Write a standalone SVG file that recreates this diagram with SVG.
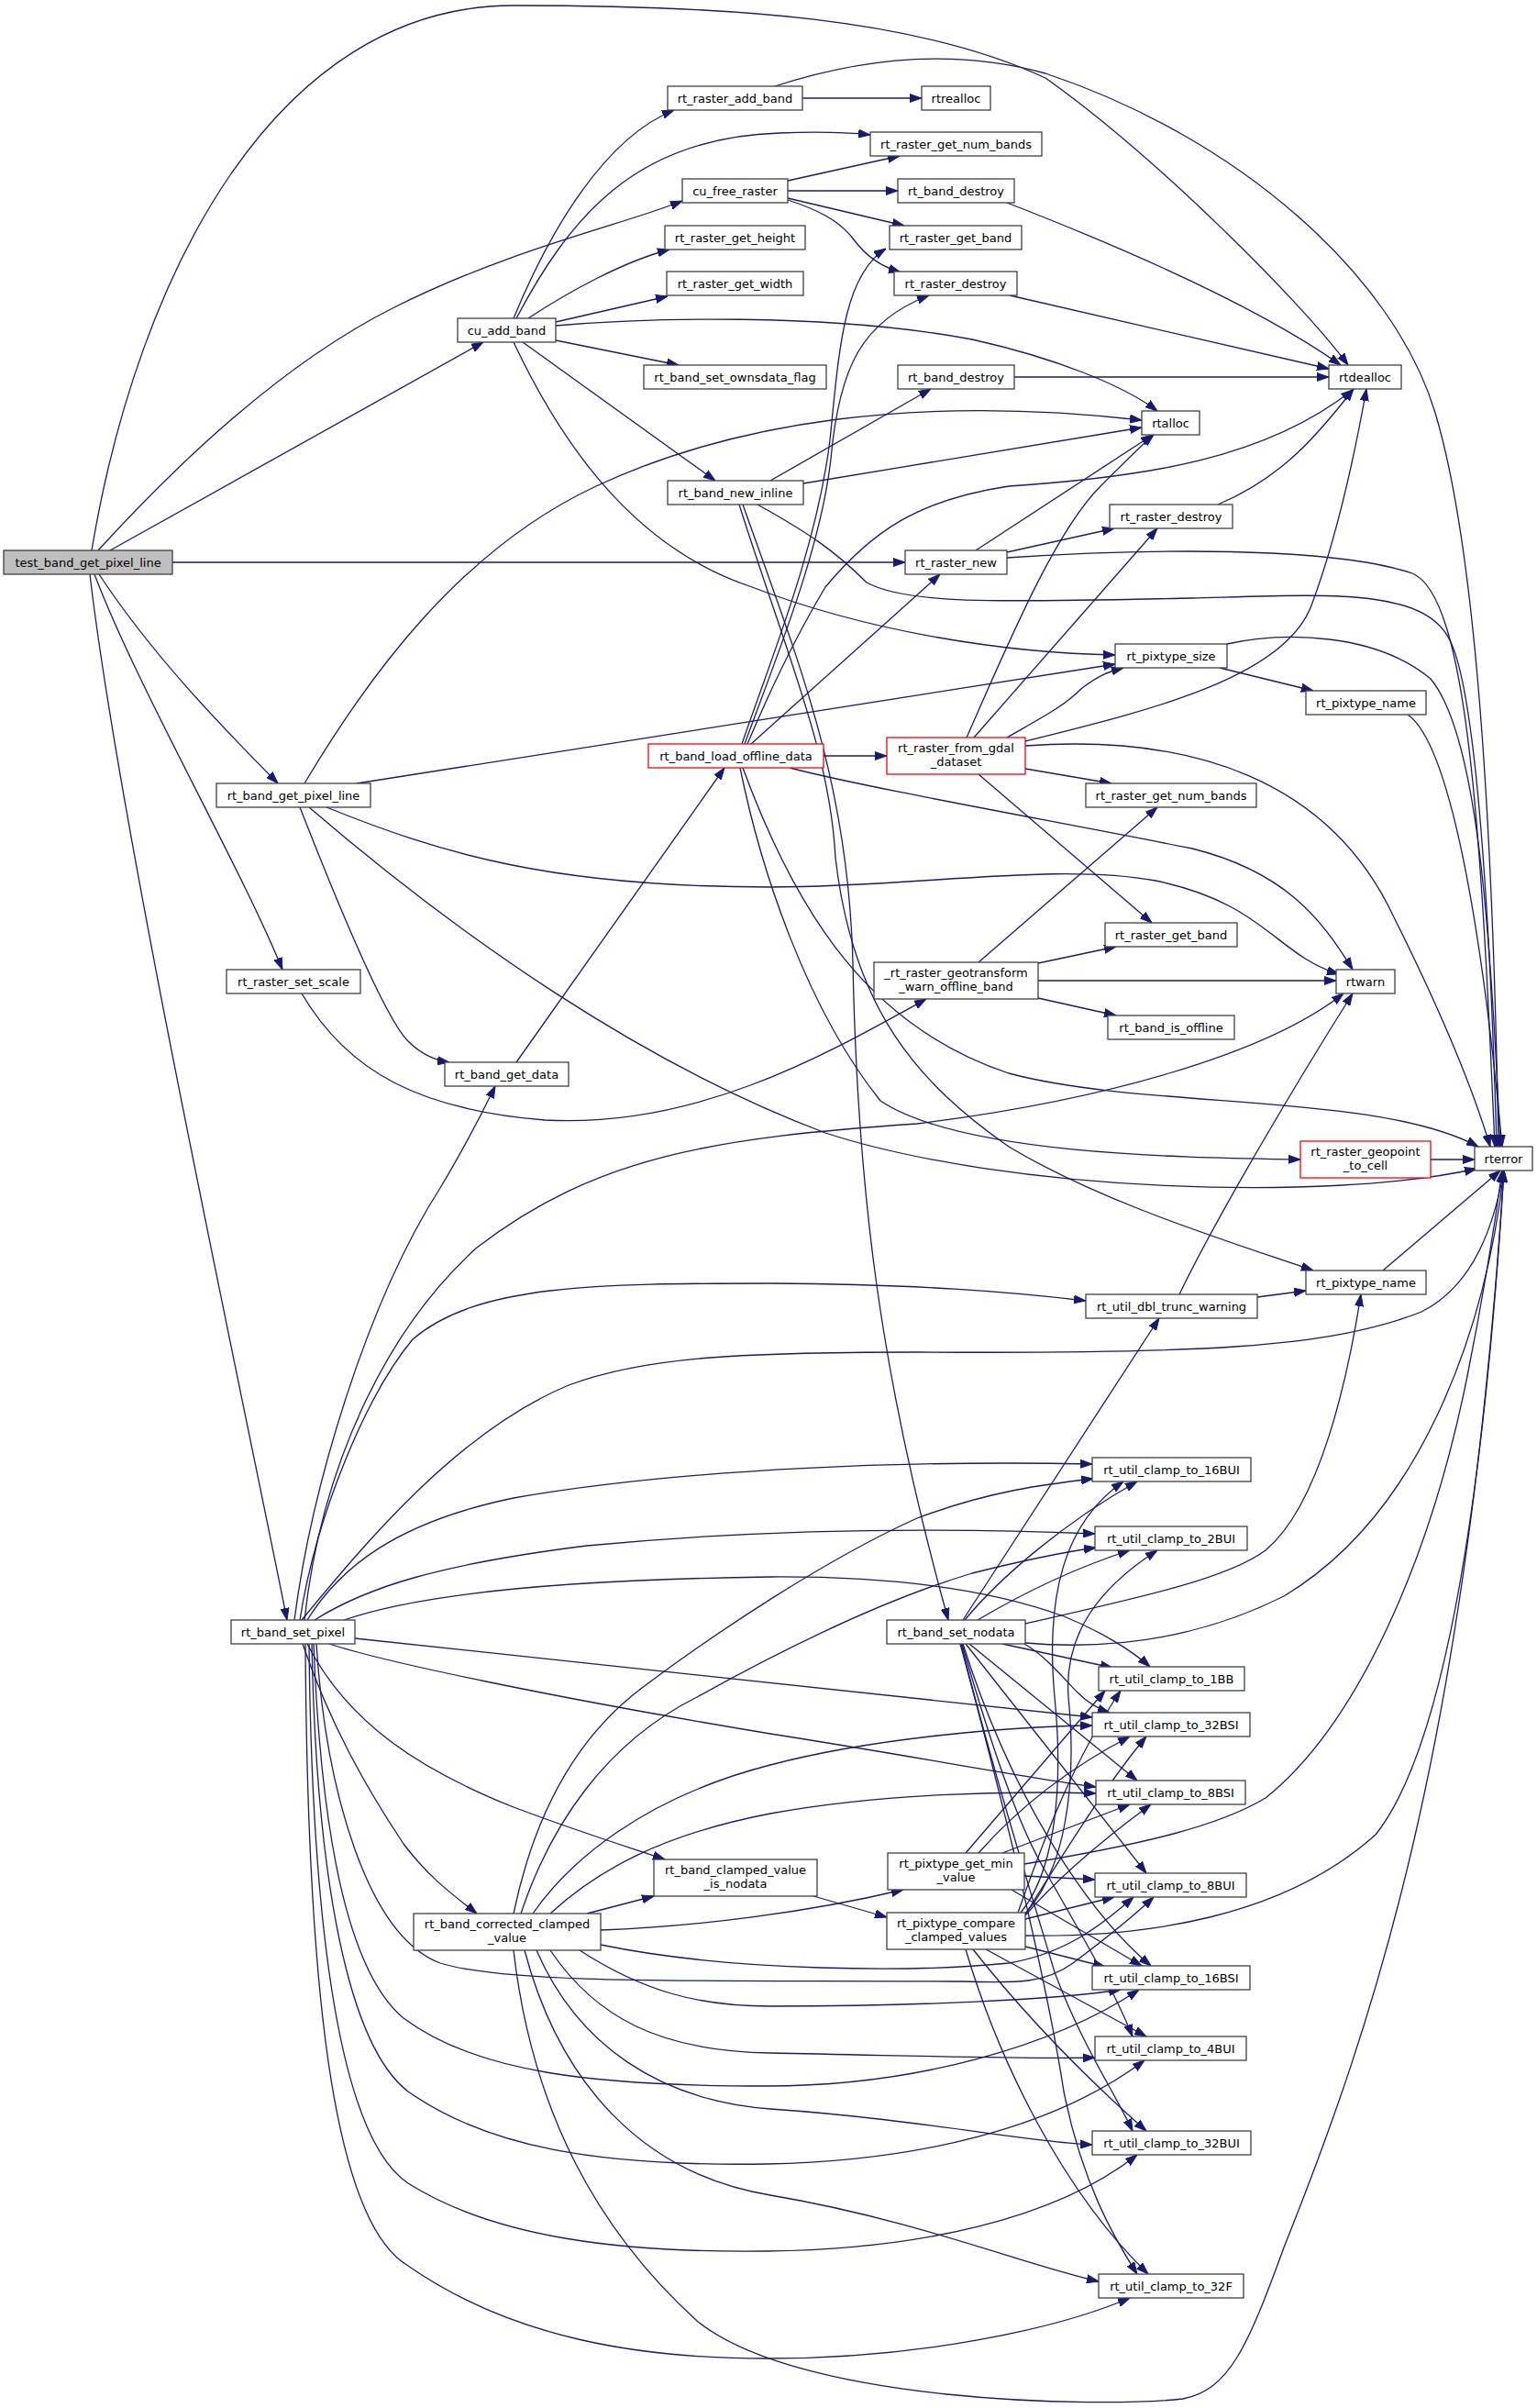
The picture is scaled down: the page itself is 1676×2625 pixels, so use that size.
<svg xmlns="http://www.w3.org/2000/svg" width="1676" height="2625" viewBox="0 0 1676 2625">
<style>
.n rect{fill:#ffffff;stroke:#404040;stroke-width:1.3}
.root rect{fill:#bfbfbf}
.red rect{stroke:#ff0000}
text{font-family:"DejaVu Sans","Liberation Sans",sans-serif;font-size:13px;text-anchor:middle;fill:#000000}
#edges path{fill:none;stroke:#191970;stroke-width:1.3;marker-end:url(#arr)}
</style>
<defs>
<marker id="arr" viewBox="0 0 13 10" refX="13" refY="5" markerWidth="13" markerHeight="10" markerUnits="userSpaceOnUse" orient="auto">
<path d="M0,0.5L13,5L0,9.5z" fill="#191970" stroke="#191970" stroke-width="1"/>
</marker>
</defs>
<rect x="0" y="0" width="1676" height="2625" fill="#ffffff"/>
<g id="edges">
<path d="M100,600 C150,300 300,6 560,6 C800,6 1000,20 1140,85 C1260,170 1420,330 1470,398"/>
<path d="M107,600 C180,520 300,400 430,335 C560,270 680,245 744,219"/>
<path d="M120,600 L527,373"/>
<path d="M188,613 L987,613"/>
<path d="M108,626 C170,720 250,800 303,854"/>
<path d="M103,626 C150,750 260,940 308,1057"/>
<path d="M98,626 C130,900 260,1500 313,1766"/>
<path d="M560,347 C600,250 660,150 735,120"/>
<path d="M563,347 C620,240 690,150 850,145 C900,143 930,145 949,147"/>
<path d="M576,347 C620,318 680,285 730,272"/>
<path d="M606,351 L728,323"/>
<path d="M606,355 C700,347 900,340 1060,370 C1150,390 1225,420 1262,448"/>
<path d="M606,371 L740,398"/>
<path d="M570,373 L780,524"/>
<path d="M560,373 C620,500 700,600 820,640 C950,690 1100,712 1216,714"/>
<path d="M875,107 L1005,107"/>
<path d="M845,94 C950,60 1050,55 1140,80 C1350,150 1520,300 1565,450 C1610,600 1628,900 1634,1250"/>
<path d="M859,197 L981,170"/>
<path d="M859,208 L979,208"/>
<path d="M859,216 L986,246"/>
<path d="M859,218 C890,228 915,240 930,260 C945,280 960,290 982,297"/>
<path d="M1098,221 C1250,280 1380,340 1462,398"/>
<path d="M1101,322 L1449,402"/>
<path d="M1106,411 L1449,411"/>
<path d="M1328,550 C1400,520 1440,470 1476,424"/>
<path d="M840,524 L1015,424"/>
<path d="M876,527 L1245,466"/>
<path d="M826,550 C880,580 910,600 945,635 C990,660 1100,656 1300,652 C1450,648 1555,640 1582,700 C1610,760 1625,1000 1632,1250"/>
<path d="M810,550 C870,720 925,850 930,1050 C935,1300 960,1500 1034,1766"/>
<path d="M806,550 C860,720 905,820 911,935 C930,1100 1000,1180 1100,1250 C1200,1310 1330,1350 1432,1385"/>
<path d="M1064,600 L1257,474"/>
<path d="M1098,602 L1215,576"/>
<path d="M1098,608 C1250,598 1450,595 1540,625 C1600,650 1615,900 1630,1250"/>
<path d="M332,854 C400,740 500,600 650,530 C800,460 1000,430 1245,458"/>
<path d="M389,854 L1216,724"/>
<path d="M327,880 C370,990 420,1110 445,1135 C460,1150 475,1156 490,1158"/>
<path d="M356,880 C480,930 600,967 840,967 C1000,967 1150,940 1260,960 C1380,985 1390,1040 1460,1062"/>
<path d="M337,880 C500,1020 700,1160 900,1235 C1100,1300 1450,1310 1610,1274"/>
<path d="M329,1083 C380,1170 460,1210 594,1221 C760,1230 900,1150 1010,1089"/>
<path d="M563,1158 L790,837"/>
<path d="M898,824 L967,824"/>
<path d="M809,811 C840,720 890,600 905,480 C915,380 920,300 966,271"/>
<path d="M812,811 C845,720 895,600 906,500 C915,400 940,350 1013,322"/>
<path d="M815,811 C845,740 870,690 900,640 C950,580 1000,545 1100,530 C1250,520 1380,500 1475,425"/>
<path d="M819,811 L1025,626"/>
<path d="M861,837 C950,860 1150,895 1300,925 C1400,950 1440,1000 1475,1057"/>
<path d="M807,837 C830,950 880,1100 960,1200 C1050,1260 1300,1262 1418,1264"/>
<path d="M810,837 C870,1000 950,1120 1100,1170 C1250,1210 1500,1190 1612,1250"/>
<path d="M1054,804 C1100,700 1150,580 1200,530 C1230,500 1245,485 1258,474"/>
<path d="M1062,804 L1262,576"/>
<path d="M1098,804 C1140,780 1160,770 1180,750 C1200,735 1210,732 1225,728"/>
<path d="M1118,808 C1250,775 1400,740 1430,660 C1460,580 1480,480 1490,424"/>
<path d="M1118,813 C1300,800 1450,850 1520,1000 C1580,1120 1610,1200 1625,1250"/>
<path d="M1118,838 L1212,854"/>
<path d="M1067,844 L1256,1006"/>
<path d="M1330,728 L1432,753"/>
<path d="M1338,702 C1400,688 1500,690 1560,740 C1610,800 1625,1000 1636,1250"/>
<path d="M1535,779 C1580,810 1615,1000 1638,1250"/>
<path d="M1067,1049 L1262,880"/>
<path d="M1132,1050 L1217,1032"/>
<path d="M1132,1069 L1457,1069"/>
<path d="M1132,1088 L1217,1107"/>
<path d="M1560,1264 L1608,1264"/>
<path d="M1286,1411 C1330,1320 1420,1170 1475,1083"/>
<path d="M1371,1414 L1424,1407"/>
<path d="M1508,1385 L1636,1276"/>
<path d="M321,1766 C340,1620 400,1420 480,1295 C510,1245 525,1215 540,1184"/>
<path d="M332,1766 C350,1600 420,1450 520,1360 C650,1260 780,1240 1000,1225 C1200,1200 1380,1150 1465,1083"/>
<path d="M327,1766 C345,1650 400,1520 450,1460 C520,1400 650,1399 840,1399 C1000,1400 1100,1408 1184,1418"/>
<path d="M329,1766 C400,1680 500,1560 620,1510 C700,1480 800,1474 1000,1474 C1300,1476 1450,1470 1550,1430 C1610,1400 1630,1330 1640,1276"/>
<path d="M335,1766 C370,1710 430,1660 560,1633 C750,1600 1000,1592 1191,1596"/>
<path d="M343,1766 C400,1730 480,1705 640,1685 C850,1665 1050,1666 1194,1672"/>
<path d="M375,1766 C450,1740 600,1722 840,1719 C1000,1718 1100,1740 1160,1762 C1200,1778 1235,1800 1254,1817"/>
<path d="M387,1786 L1191,1872"/>
<path d="M359,1792 C420,1812 600,1850 840,1890 C1000,1915 1100,1935 1195,1948"/>
<path d="M335,1792 C380,1880 460,1930 560,1970 C640,2000 690,2015 725,2027"/>
<path d="M330,1792 C360,1880 400,1950 440,2010 C470,2050 500,2070 520,2086"/>
<path d="M345,1792 C355,1950 400,2110 480,2140 C560,2165 800,2158 1050,2160 C1110,2162 1140,2162 1170,2140 C1210,2110 1240,2085 1258,2068"/>
<path d="M342,1792 C350,2000 380,2150 440,2200 C520,2260 650,2274 836,2274 C1000,2274 1150,2230 1242,2169"/>
<path d="M340,1792 C345,2050 380,2230 445,2280 C530,2340 650,2362 836,2359 C1000,2356 1150,2320 1248,2246"/>
<path d="M337,1792 C340,2100 370,2330 445,2380 C540,2440 680,2456 836,2454 C1000,2452 1150,2420 1240,2349"/>
<path d="M333,1792 C335,2150 360,2420 445,2470 C560,2550 700,2571 836,2571 C1000,2571 1150,2540 1232,2505"/>
<path d="M640,2086 L713,2067"/>
<path d="M655,2104 C760,2100 880,2085 985,2060"/>
<path d="M560,2086 C580,1990 620,1900 700,1840 C780,1780 900,1700 1000,1655 C1080,1625 1140,1618 1192,1612"/>
<path d="M568,2086 C600,1990 660,1900 760,1850 C850,1800 960,1745 1060,1715 C1120,1700 1160,1692 1195,1687"/>
<path d="M581,2086 C620,2030 700,1960 840,1924 C950,1895 1100,1882 1191,1881"/>
<path d="M600,2086 C650,2040 720,2000 840,1977 C960,1955 1100,1952 1195,1955"/>
<path d="M655,2120 C800,2150 1000,2150 1100,2140 C1160,2130 1200,2100 1236,2068"/>
<path d="M632,2126 C700,2170 760,2187 840,2187 C1000,2187 1150,2180 1222,2169"/>
<path d="M600,2126 C650,2200 720,2236 840,2238 C1000,2241 1120,2245 1194,2243"/>
<path d="M585,2126 C630,2230 720,2290 840,2299 C1000,2310 1120,2335 1191,2338"/>
<path d="M572,2126 C610,2270 700,2370 840,2393 C1000,2420 1120,2470 1198,2487"/>
<path d="M560,2126 C580,2300 650,2430 760,2530 C870,2620 1200,2625 1290,2615 C1340,2605 1360,2560 1400,2450 C1500,2200 1600,1900 1640,1276"/>
<path d="M887,2067 L967,2090"/>
<path d="M1053,2020 L1205,1843"/>
<path d="M1067,2020 C1120,1960 1180,1920 1232,1893"/>
<path d="M1093,2020 L1232,1967"/>
<path d="M1117,2045 L1194,2049"/>
<path d="M1103,2060 L1245,2143"/>
<path d="M1117,2032 C1250,2010 1330,1990 1380,1960 C1480,1880 1560,1700 1600,1500 C1620,1400 1632,1320 1638,1276"/>
<path d="M1113,2085 C1150,2040 1160,1950 1150,1850 C1140,1740 1160,1660 1225,1615"/>
<path d="M1118,2086 C1160,2040 1175,1950 1165,1850 C1160,1780 1200,1730 1262,1690"/>
<path d="M1110,2085 C1140,2000 1170,1920 1222,1843"/>
<path d="M1118,2087 C1160,2020 1210,1940 1250,1893"/>
<path d="M1118,2088 C1160,2040 1210,2000 1255,1967"/>
<path d="M1118,2092 L1215,2068"/>
<path d="M1118,2122 L1205,2144"/>
<path d="M1075,2125 L1250,2220"/>
<path d="M1061,2125 C1120,2200 1190,2270 1250,2323"/>
<path d="M1053,2125 C1090,2250 1160,2390 1252,2479"/>
<path d="M1118,2110 C1250,2112 1400,2090 1500,2000 C1580,1900 1620,1600 1640,1276"/>
<path d="M1050,1766 L1264,1437"/>
<path d="M1118,1770 C1250,1740 1340,1720 1380,1690 C1440,1640 1470,1500 1484,1411"/>
<path d="M1118,1791 C1200,1798 1300,1790 1400,1740 C1550,1650 1620,1450 1640,1276"/>
<path d="M1052,1766 C1090,1720 1160,1660 1240,1615"/>
<path d="M1066,1766 C1110,1740 1170,1710 1232,1690"/>
<path d="M1093,1792 L1213,1818"/>
<path d="M1117,1792 C1140,1805 1160,1830 1175,1845 C1185,1855 1195,1862 1210,1867"/>
<path d="M1057,1792 L1240,1941"/>
<path d="M1053,1792 L1250,2042"/>
<path d="M1050,1792 C1100,1950 1180,2080 1255,2143"/>
<path d="M1049,1792 C1080,1900 1110,1990 1140,2040 C1180,2110 1215,2170 1235,2220"/>
<path d="M1048,1792 C1080,1920 1120,2050 1150,2150 C1180,2230 1215,2280 1235,2323"/>
<path d="M1047,1792 C1090,1950 1140,2150 1160,2280 C1180,2380 1215,2440 1240,2479"/>
</g>
<g id="n_test_band_get_pixel_line" class="n root"><rect x="4" y="600" width="184" height="26"/><text x="96" y="617.5">test_band_get_pixel_line</text></g>
<g id="n_cu_add_band" class="n"><rect x="499" y="347" width="107" height="26"/><text x="552.5" y="364.5">cu_add_band</text></g>
<g id="n_rt_raster_add_band" class="n"><rect x="728" y="94" width="147" height="26"/><text x="801.5" y="111.5">rt_raster_add_band</text></g>
<g id="n_rtrealloc" class="n"><rect x="1005" y="94" width="75" height="26"/><text x="1042.5" y="111.5">rtrealloc</text></g>
<g id="n_rt_raster_get_num_bands_1" class="n"><rect x="949" y="144" width="187" height="26"/><text x="1042.5" y="161.5">rt_raster_get_num_bands</text></g>
<g id="n_cu_free_raster" class="n"><rect x="744" y="195" width="115" height="26"/><text x="801.5" y="212.5">cu_free_raster</text></g>
<g id="n_rt_band_destroy_1" class="n"><rect x="979" y="195" width="127" height="26"/><text x="1042.5" y="212.5">rt_band_destroy</text></g>
<g id="n_rt_raster_get_height" class="n"><rect x="725" y="246" width="153" height="26"/><text x="801.5" y="263.5">rt_raster_get_height</text></g>
<g id="n_rt_raster_get_band_1" class="n"><rect x="970" y="246" width="144" height="26"/><text x="1042" y="263.5">rt_raster_get_band</text></g>
<g id="n_rt_raster_get_width" class="n"><rect x="727" y="296" width="149" height="26"/><text x="801.5" y="313.5">rt_raster_get_width</text></g>
<g id="n_rt_raster_destroy_1" class="n"><rect x="975" y="296" width="134" height="26"/><text x="1042" y="313.5">rt_raster_destroy</text></g>
<g id="n_rt_band_set_ownsdata_flag" class="n"><rect x="702" y="398" width="199" height="26"/><text x="801.5" y="415.5">rt_band_set_ownsdata_flag</text></g>
<g id="n_rt_band_destroy_2" class="n"><rect x="979" y="398" width="127" height="26"/><text x="1042.5" y="415.5">rt_band_destroy</text></g>
<g id="n_rtdealloc" class="n"><rect x="1449" y="398" width="79" height="26"/><text x="1488.5" y="415.5">rtdealloc</text></g>
<g id="n_rtalloc" class="n"><rect x="1245" y="448" width="63" height="26"/><text x="1276.5" y="465.5">rtalloc</text></g>
<g id="n_rt_band_new_inline" class="n"><rect x="728" y="524" width="148" height="26"/><text x="802" y="541.5">rt_band_new_inline</text></g>
<g id="n_rt_raster_destroy_2" class="n"><rect x="1210" y="550" width="134" height="26"/><text x="1277" y="567.5">rt_raster_destroy</text></g>
<g id="n_rt_raster_new" class="n"><rect x="987" y="600" width="111" height="26"/><text x="1042.5" y="617.5">rt_raster_new</text></g>
<g id="n_rt_pixtype_size" class="n"><rect x="1216" y="702" width="122" height="26"/><text x="1277" y="719.5">rt_pixtype_size</text></g>
<g id="n_rt_pixtype_name_1" class="n"><rect x="1424" y="753" width="131" height="26"/><text x="1489.5" y="770.5">rt_pixtype_name</text></g>
<g id="n_rt_band_load_offline_data" class="n red"><rect x="707" y="811" width="191" height="26"/><text x="802.5" y="828.5">rt_band_load_offline_data</text></g>
<g id="n_rt_raster_from_gdal_dataset" class="n red"><rect x="967" y="804" width="151" height="40"/><text x="1042.5" y="820">rt_raster_from_gdal</text><text x="1042.5" y="835">_dataset</text></g>
<g id="n_rt_raster_get_num_bands_2" class="n"><rect x="1184" y="854" width="186" height="26"/><text x="1277" y="871.5">rt_raster_get_num_bands</text></g>
<g id="n_rt_band_get_pixel_line" class="n"><rect x="236" y="854" width="168" height="26"/><text x="320" y="871.5">rt_band_get_pixel_line</text></g>
<g id="n_rt_raster_get_band_2" class="n"><rect x="1205" y="1006" width="144" height="26"/><text x="1277" y="1023.5">rt_raster_get_band</text></g>
<g id="n_rt_raster_set_scale" class="n"><rect x="247" y="1057" width="146" height="26"/><text x="320" y="1074.5">rt_raster_set_scale</text></g>
<g id="n_rt_raster_geotransform_warn_offline_band" class="n"><rect x="953" y="1049" width="179" height="40"/><text x="1042.5" y="1065">_rt_raster_geotransform</text><text x="1042.5" y="1080">_warn_offline_band</text></g>
<g id="n_rtwarn" class="n"><rect x="1457" y="1057" width="64" height="26"/><text x="1489" y="1074.5">rtwarn</text></g>
<g id="n_rt_band_is_offline" class="n"><rect x="1208" y="1107" width="138" height="26"/><text x="1277" y="1124.5">rt_band_is_offline</text></g>
<g id="n_rt_band_get_data" class="n"><rect x="485" y="1158" width="135" height="26"/><text x="552.5" y="1175.5">rt_band_get_data</text></g>
<g id="n_rt_raster_geopoint_to_cell" class="n red"><rect x="1418" y="1244" width="142" height="40"/><text x="1489" y="1260">rt_raster_geopoint</text><text x="1489" y="1275">_to_cell</text></g>
<g id="n_rterror" class="n"><rect x="1608" y="1250" width="63" height="26"/><text x="1639.5" y="1267.5">rterror</text></g>
<g id="n_rt_pixtype_name_2" class="n"><rect x="1424" y="1385" width="131" height="26"/><text x="1489.5" y="1402.5">rt_pixtype_name</text></g>
<g id="n_rt_util_dbl_trunc_warning" class="n"><rect x="1184" y="1411" width="187" height="26"/><text x="1277.5" y="1428.5">rt_util_dbl_trunc_warning</text></g>
<g id="n_rt_util_clamp_to_16BUI" class="n"><rect x="1191" y="1589" width="173" height="26"/><text x="1277.5" y="1606.5">rt_util_clamp_to_16BUI</text></g>
<g id="n_rt_util_clamp_to_2BUI" class="n"><rect x="1194" y="1664" width="166" height="26"/><text x="1277" y="1681.5">rt_util_clamp_to_2BUI</text></g>
<g id="n_rt_band_set_nodata" class="n"><rect x="967" y="1766" width="151" height="26"/><text x="1042.5" y="1783.5">rt_band_set_nodata</text></g>
<g id="n_rt_band_set_pixel" class="n"><rect x="252" y="1766" width="135" height="26"/><text x="319.5" y="1783.5">rt_band_set_pixel</text></g>
<g id="n_rt_util_clamp_to_1BB" class="n"><rect x="1198" y="1817" width="159" height="26"/><text x="1277.5" y="1834.5">rt_util_clamp_to_1BB</text></g>
<g id="n_rt_util_clamp_to_32BSI" class="n"><rect x="1191" y="1867" width="172" height="26"/><text x="1277" y="1884.5">rt_util_clamp_to_32BSI</text></g>
<g id="n_rt_util_clamp_to_8BSI" class="n"><rect x="1195" y="1941" width="163" height="26"/><text x="1276.5" y="1958.5">rt_util_clamp_to_8BSI</text></g>
<g id="n_rt_band_clamped_value_is_nodata" class="n"><rect x="713" y="2027" width="178" height="40"/><text x="802" y="2043">rt_band_clamped_value</text><text x="802" y="2058">_is_nodata</text></g>
<g id="n_rt_pixtype_get_min_value" class="n"><rect x="968" y="2020" width="149" height="40"/><text x="1042.5" y="2036">rt_pixtype_get_min</text><text x="1042.5" y="2051">_value</text></g>
<g id="n_rt_util_clamp_to_8BUI" class="n"><rect x="1194" y="2042" width="165" height="26"/><text x="1276.5" y="2059.5">rt_util_clamp_to_8BUI</text></g>
<g id="n_rt_band_corrected_clamped_value" class="n"><rect x="451" y="2086" width="204" height="40"/><text x="553" y="2102">rt_band_corrected_clamped</text><text x="553" y="2117">_value</text></g>
<g id="n_rt_pixtype_compare_clamped_values" class="n"><rect x="967" y="2085" width="151" height="40"/><text x="1042.5" y="2101">rt_pixtype_compare</text><text x="1042.5" y="2116">_clamped_values</text></g>
<g id="n_rt_util_clamp_to_16BSI" class="n"><rect x="1191" y="2143" width="172" height="26"/><text x="1277" y="2160.5">rt_util_clamp_to_16BSI</text></g>
<g id="n_rt_util_clamp_to_4BUI" class="n"><rect x="1194" y="2220" width="165" height="26"/><text x="1276.5" y="2237.5">rt_util_clamp_to_4BUI</text></g>
<g id="n_rt_util_clamp_to_32BUI" class="n"><rect x="1191" y="2323" width="173" height="26"/><text x="1277.5" y="2340.5">rt_util_clamp_to_32BUI</text></g>
<g id="n_rt_util_clamp_to_32F" class="n"><rect x="1198" y="2479" width="158" height="26"/><text x="1277" y="2496.5">rt_util_clamp_to_32F</text></g>
</svg>
